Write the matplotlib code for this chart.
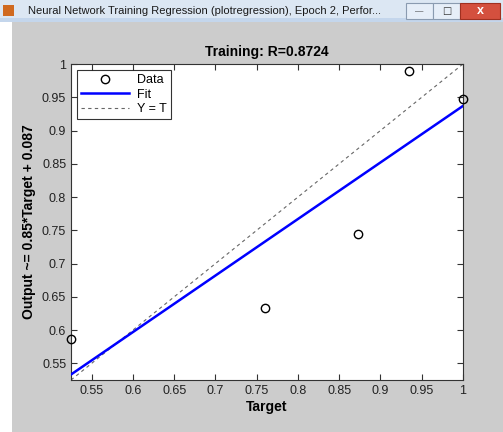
import matplotlib
matplotlib.use("Agg")
import matplotlib.pyplot as plt
from matplotlib.patches import Rectangle
import numpy as np

plt.rcParams['font.family'] = ['Liberation Sans', 'DejaVu Sans']

target = [0.525, 0.760, 0.873, 0.935, 1.000]
output = [0.587, 0.633, 0.745, 0.990, 0.947]
fit_slope = 0.85
fit_icpt = 0.087
xticks = [0.55, 0.6, 0.65, 0.7, 0.75, 0.8, 0.85, 0.9, 0.95, 1]
yticks = [0.55, 0.6, 0.65, 0.7, 0.75, 0.8, 0.85, 0.9, 0.95, 1]
lims = (0.525, 1.0)

W, H = 503, 432
fig = plt.figure(figsize=(W/100, H/100), dpi=100)
fig.patch.set_facecolor('white')

def fr(x, y, w, h, **kw):
    fig.patches.append(Rectangle((x/W, 1-(y+h)/H), w/W, h/H, transform=fig.transFigure,
                                 zorder=-5, **kw))

# gray window body
fr(12, 22, W-12, H-22, facecolor='#cccccc', edgecolor='none')
# title bar
fr(0, 0, W, 20, facecolor='#dce7f3', edgecolor='none')
fr(0, 18, W, 4, facecolor='#c4d6ec', edgecolor='none')
fr(3, 5, 11, 11, facecolor='#d06a20', edgecolor='none')
fig.text(28/W, 1-11/H, 'Neural Network Training Regression (plotregression), Epoch 2, Perfor...',
         fontsize=8, family=['Liberation Sans'], va='center', ha='left', color='#1a1a1a')
fr(406, 3, 27, 16, facecolor='#e6eef8', edgecolor='#8a9bb0', lw=0.8)
fr(433, 3, 27, 16, facecolor='#e6eef8', edgecolor='#8a9bb0', lw=0.8)
fr(460, 3, 40, 16, facecolor='#d4503e', edgecolor='#a03020', lw=0.8)
fig.text(419.5/W, 1-12/H, '—', fontsize=6, ha='center', va='center', color='#333333')
fig.text(446.5/W, 1-11/H, '□', fontsize=7, ha='center', va='center', color='#333333', family=['DejaVu Sans'])
fig.text(480/W, 1-11/H, 'x', fontsize=9, ha='center', va='center', color='white', fontweight='bold')

ax = fig.add_axes([71/W, 1-380/H, (463-71)/W, (380-64)/H])
ax.set_facecolor('white')

xs = np.array(lims)
ax.plot(xs, xs, linestyle='--', color='#666666', lw=0.8, dashes=(3, 3), label='Y = T', zorder=2)
ax.plot(xs, fit_slope*xs + fit_icpt, color='#0000ff', lw=1.8, label='Fit', zorder=3)
ax.plot(target, output, linestyle='none', marker='o', markersize=6, markerfacecolor='none',
        markeredgecolor='black', markeredgewidth=1.0, label='Data', zorder=4, clip_on=False)

ax.set_xlim(lims)
ax.set_ylim(lims)
ax.set_xticks(xticks)
ax.set_yticks(yticks)
ax.set_xticklabels([f'{t:g}' for t in xticks])
ax.set_yticklabels([f'{t:g}' for t in yticks])
ax.tick_params(direction='in', top=True, right=True, length=4, width=0.8, labelsize=9,
               labelcolor='#222222', color='#333333')
for s in ax.spines.values():
    s.set_color('#333333')
    s.set_linewidth(0.8)

ax.set_title('Training: R=0.8724', fontsize=10, fontweight='bold', pad=6)
ax.set_xlabel('Target', fontsize=10, fontweight='bold', labelpad=2)
ax.set_ylabel('Output ~= 0.85*Target + 0.087', fontsize=10, fontweight='bold', labelpad=4)

h, l = ax.get_legend_handles_labels()
order = [2, 1, 0]
leg = ax.legend([h[i] for i in order], [l[i] for i in order], loc='upper left',
                fontsize=9, frameon=True, fancybox=False, borderaxespad=0.45,
                handlelength=3.8, labelspacing=0.2, borderpad=0.35, handletextpad=0.7)
leg.get_frame().set_edgecolor('black')
leg.get_frame().set_linewidth(0.8)

fig.savefig('out.png', dpi=100, facecolor=fig.get_facecolor())
